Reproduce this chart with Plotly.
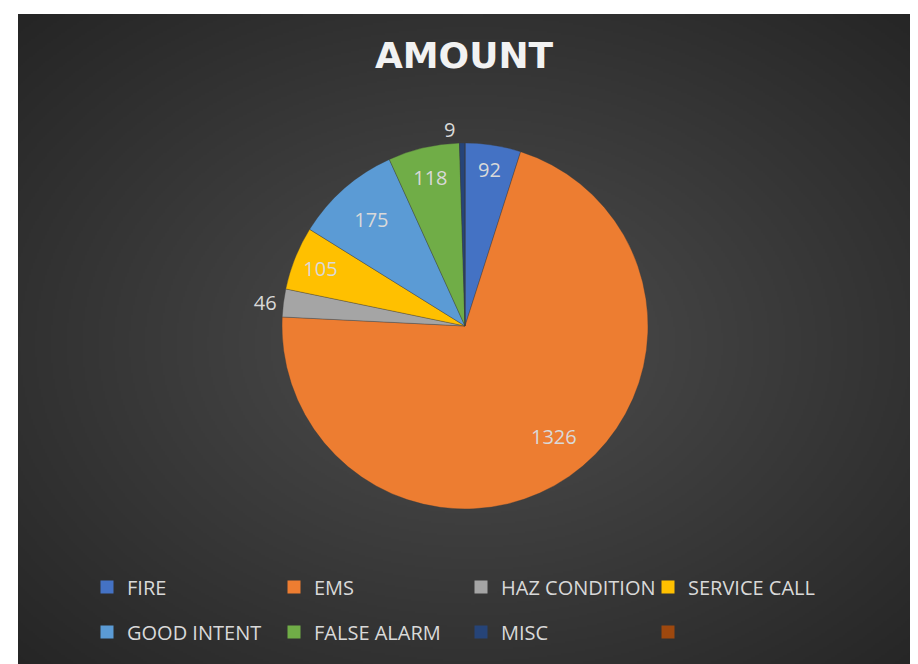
import base64, struct, zlib, math
import numpy as np
import plotly.graph_objects as go

# ---- data ----
categories = ["FIRE", "EMS", "HAZ CONDITION", "SERVICE CALL", "GOOD INTENT", "FALSE ALARM", "MISC", ""]
amounts = [92, 1326, 46, 105, 175, 118, 9, 0]
colors = ["#4472C4", "#ED7D31", "#A5A5A5", "#FFC000", "#5B9BD5", "#70AD47", "#264478", "#9E480E"]
label_pos = ["inside", "none", "outside", "inside", "inside", "inside", "outside", "none"]
title_text = "AMOUNT"

W, H = 918, 664

# ---- radial gradient background as PNG ----
def make_png(arr):
    h, w, _ = arr.shape
    raw = b"".join(b"\x00" + arr[i].tobytes() for i in range(h))
    def chunk(t, d):
        c = struct.pack(">I", len(d)) + t + d
        return c + struct.pack(">I", zlib.crc32(t + d) & 0xFFFFFFFF)
    return (b"\x89PNG\r\n\x1a\n" + chunk(b"IHDR", struct.pack(">IIBBBBB", w, h, 8, 2, 0, 0, 0))
            + chunk(b"IDAT", zlib.compress(raw, 9)) + chunk(b"IEND", b""))

bw, bh = 454, 329
yy, xx = np.mgrid[0:bh, 0:bw]
dx = (xx - bw / 2) / (bw / 2)
dy = (yy - bh / 2) / (bh / 2)
t = np.clip(np.sqrt(dx ** 2 + dy ** 2) / np.sqrt(2), 0, 1)
inner, outer = 0x4E, 0x25
v = (inner + (outer - inner) * t).astype(np.uint8)
img = np.stack([v, v, v], axis=-1)
bg_uri = "data:image/png;base64," + base64.b64encode(make_png(img)).decode()

# pie geometry (pixels)
pcx, pcy, pr = 457, 318, 183

fig = go.Figure()
fig.add_trace(go.Pie(
    labels=categories, values=amounts, sort=False, direction="clockwise", rotation=0,
    marker=dict(colors=colors, line=dict(color="rgba(60,60,60,0.6)", width=0.6)),
    textinfo="value", textposition=label_pos,
    insidetextorientation="horizontal",
    textfont=dict(family="Open Sans", size=20, color="#D9D9D9"),
    outsidetextfont=dict(family="Open Sans", size=20, color="#D9D9D9"),
    showlegend=False, hoverinfo="label+value",
    domain=dict(x=[(pcx - pr) / W, (pcx + pr) / W], y=[1 - (pcy + pr) / H, 1 - (pcy - pr) / H]),
))

# label for the large EMS slice, placed along its mid-angle like the original
total = sum(amounts)
start = sum(amounts[:1])
mid = (start + amounts[1] / 2) / total * 2 * math.pi - 0.06
rr = 0.72 * pr
ccx, ccy = pcx + 8, pcy + 7
fig.add_annotation(
    x=(ccx + rr * math.sin(mid)) / W, y=1 - (ccy - rr * math.cos(mid)) / H,
    xref="paper", yref="paper", text=str(amounts[1]), showarrow=False,
    font=dict(family="Open Sans", size=20, color="#D9D9D9"),
)

# legend entries
for i, (c, col) in enumerate(zip(categories, colors)):
    fig.add_trace(go.Scatter(
        x=[None], y=[None], mode="markers", name=c if c else " ",
        marker=dict(symbol="square", size=13, color=col),
        legend="legend" if i < 4 else "legend2", showlegend=True,
    ))

legend_common = dict(
    orientation="h", entrywidth=142, entrywidthmode="pixels", itemwidth=30,
    font=dict(family="Open Sans", size=20, color="#D9D9D9"),
    bgcolor="rgba(0,0,0,0)", xanchor="left", yanchor="middle",
)

fig.update_layout(
    width=W, height=H, margin=dict(l=0, r=0, t=0, b=0),
    paper_bgcolor="white", plot_bgcolor="rgba(0,0,0,0)",
    xaxis=dict(visible=False), yaxis=dict(visible=False),
    title=dict(text="<b>" + title_text + "</b>", x=456 / W, xanchor="center", y=1 - 47 / H, yanchor="middle",
               font=dict(family="DejaVu Sans", size=36, color="#F2F2F2")),
    legend=dict(x=79 / W, y=1 - 579 / H, **legend_common),
    legend2=dict(x=79 / W, y=1 - 624 / H, **legend_common),
    images=[dict(source=bg_uri, xref="paper", yref="paper", x=10 / W, y=1 - 6 / H,
                 sizex=1 - 10 / W, sizey=1 - 6 / H, xanchor="left", yanchor="top",
                 sizing="stretch", layer="below")],
)

fig.write_html("out.html")
